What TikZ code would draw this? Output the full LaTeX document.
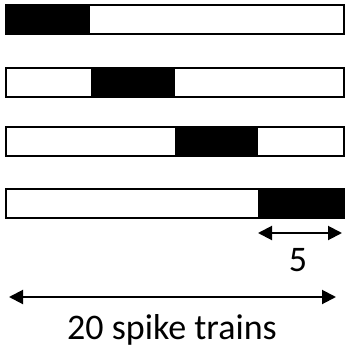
\documentclass[tikz,border=0pt]{standalone}
\usepackage{fontspec}
\setmainfont{Carlito}
\usetikzlibrary{arrows.meta}
\begin{document}
\begin{tikzpicture}[x=1pt,y=-1pt,
  barbox/.style={draw=black,line width=1.6pt,fill=white},
  spike/.style={fill=black},
  dimarrow/.style={line width=2pt,{Triangle[length=14pt,width=14pt]}-{Triangle[length=14pt,width=14pt]}},
  lbl/.style={font=\fontsize{36}{40}\selectfont,inner sep=0pt}]
\useasboundingbox (0,0) rectangle (346,354);
% bars
\foreach \t/\a/\b in {5/6/90, 68/91/175, 127/175/258, 189/258/343}{
  \draw[barbox] (6,\t) rectangle (344,\t+29);
  \fill[spike] (\a,\t) rectangle (\b,\t+29);
  \draw[draw=black,line width=1.6pt] (6,\t) rectangle (344,\t+29);
}
\coordinate (s1) at (258,233);
\coordinate (s2) at (342,233);
\draw[dimarrow] (s1) -- (s2);
\node[lbl] (five) at (298,260) {5};
\coordinate (l1) at (9,297);
\coordinate (l2) at (336,297);
\draw[dimarrow] (l1) -- (l2);
\node[lbl] (trains) at (172,330) {20 spike trains};
\end{tikzpicture}
\end{document}
